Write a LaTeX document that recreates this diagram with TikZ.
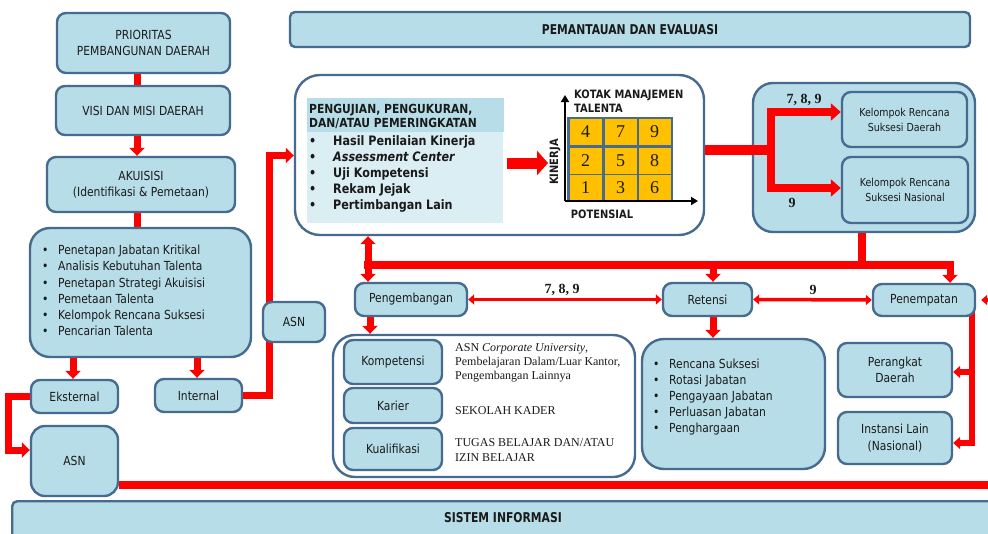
\documentclass[tikz,border=0pt]{standalone}
\usepackage{fontspec}
\setmainfont{DejaVu Sans}[FakeStretch=0.86]
\newfontfamily\bannerfont{DejaVu Sans}[FakeStretch=0.8]
\newfontfamily\cambfont{Liberation Serif}
\usetikzlibrary{arrows.meta}
\pgfdeclarelayer{back}
\pgfdeclarelayer{links}
\pgfsetlayers{back,links,main}

\definecolor{boxfill}{HTML}{B7DDE8}
\definecolor{boxline}{HTML}{476A8F}
\definecolor{palefill}{HTML}{DAEEF3}
\definecolor{cellfill}{HTML}{FFC000}
\definecolor{flowred}{HTML}{FF0000}
\definecolor{ink}{HTML}{1A1A1A}

\newcommand{\fsz}[2]{\fontsize{#1}{#2}\selectfont}
\newcommand{\bul}[1][16pt]{\makebox[#1][l]{\textbullet}}

\begin{document}
\begin{tikzpicture}[x=1pt,y=-1pt,
  panel/.style={draw=boxline, line width=2.4pt, fill=boxfill, rounded corners=9pt,
    align=center, inner sep=1pt, text=ink, font=\fsz{12.5}{16.5}},
  smallpanel/.style={panel, font=\fsz{11}{15}},
  txt/.style={inner sep=0pt, text=ink},
  itemtxt/.style={txt, align=left, font=\fsz{12.5}{16.2}},
  boldtxt/.style={txt, align=left, font=\bfseries\fsz{13}{16}},
  axlabel/.style={txt, align=left, font=\bfseries\fsz{11.5}{14}},
  serifnote/.style={txt, align=left, font=\cambfont\fsz{12}{14}},
  numlbl/.style={txt, font=\cambfont\bfseries\fsz{14}{16}},
  bannertxt/.style={txt, font=\bannerfont\bfseries\fsz{13.5}{16}},
  gridcell/.style={fill=cellfill, minimum width=32pt, minimum height=26pt, inner sep=0pt,
    text=ink, font=\cambfont\fsz{18}{20}},
  redlink/.style={draw=flowred, line width=7pt},
  redtip/.style={redlink, -{Triangle[length=8pt,width=15pt]}},
  redwide/.style={redlink, line width=8pt, -{Triangle[length=10pt,width=17pt]}},
  redside/.style={redlink, line width=6pt, -{Triangle[length=7pt,width=12pt]}},
  redthin/.style={redlink, line width=3.5pt,
    {Triangle[length=6pt,width=10pt]}-{Triangle[length=6pt,width=10pt]}},
  gridaxis/.style={draw=black, line width=2.5pt, -{Triangle[length=7pt,width=8pt]}},
]
\useasboundingbox (0,0) rectangle (988,533);
\clip (0,0) rectangle (988,533);

% large containers sit below the connectors
\begin{pgfonlayer}{back}
  \node[panel, fill=white, rounded corners=25pt, minimum width=409pt, minimum height=160pt] (asmt) at (499.5,155) {};
  \node[panel, rounded corners=20pt, minimum width=222pt, minimum height=149pt] (grp) at (864,157.5) {};
\end{pgfonlayer}

% ---------- left column: acquisition ----------
\node[panel, minimum width=173pt, minimum height=60pt] (prio) at (143.5,43) {PRIORITAS\\PEMBANGUNAN DAERAH};
\node[panel, minimum width=174pt, minimum height=49pt] (visi) at (143,110.5) {VISI DAN MISI DAERAH};
\node[panel, minimum width=188pt, minimum height=55pt] (akui) at (141,184.5) {AKUISISI\\(Identifikasi \& Pemetaan)};
\node[panel, rounded corners=20pt, minimum width=221pt, minimum height=129pt] (acq) at (140.5,292.5) {};
\node[itemtxt, anchor=west] (acqitems) at (42,290.5) {\bul Penetapan Jabatan Kritikal\\ \bul Analisis Kebutuhan Talenta\\ \bul Penetapan Strategi Akuisisi\\ \bul Pemetaan Talenta\\ \bul Kelompok Rencana Suksesi\\ \bul Pencarian Talenta};
\node[panel, minimum width=87pt, minimum height=33pt] (eks) at (74.5,396.5) {Eksternal};
\node[panel, minimum width=87pt, minimum height=33pt] (int) at (198.5,395.5) {Internal};
\node[panel, rounded corners=14pt, minimum width=87pt, minimum height=70pt] (asnA) at (74.5,461) {ASN};
\node[panel, minimum width=62pt, minimum height=40pt] (asnB) at (294,322) {ASN};

% ---------- banners ----------
\node[panel, rounded corners=5pt, minimum width=680pt, minimum height=35pt] (monev) at (630,29.5) {};
\node[bannertxt] (monevtxt) at (630,29.5) {PEMANTAUAN DAN EVALUASI};
\node[panel, rounded corners=5pt, minimum width=992pt, minimum height=50pt, anchor=north west] (sis) at (11,500) {};
\node[bannertxt] (sistxt) at (503,518) {SISTEM INFORMASI};

% ---------- assessment panel ----------
\node[fill=boxfill, minimum width=197pt, minimum height=34pt, inner sep=0pt, anchor=north west] (asmthead) at (307,98) {};
\node[fill=palefill, minimum width=196pt, minimum height=91pt, inner sep=0pt, anchor=north west] (asmtbody) at (307,132) {};
\node[txt, align=left, anchor=west, font=\bfseries\fsz{12.5}{14}] (asmthdtxt) at (309,116) {PENGUJIAN, PENGUKURAN,\\DAN/ATAU PEMERINGKATAN};
\node[boldtxt, anchor=west] (asmtitems) at (309,173.7) {\bul[24pt]Hasil Penilaian Kinerja\\ \bul[24pt]\textit{Assessment Center}\\ \bul[24pt]Uji Kompetensi\\ \bul[24pt]Rekam Jejak\\ \bul[24pt]Pertimbangan Lain};

% talent box grid
\node[fill=boxline, minimum width=106pt, minimum height=85pt, inner sep=0pt] (gridbg) at (620,159) {};
\node[gridcell] (g4) at (585.5,132) {4};
\node[gridcell] (g7) at (620.5,132) {7};
\node[gridcell] (g9) at (654.5,132) {9};
\node[gridcell] (g2) at (585.5,160.5) {2};
\node[gridcell] (g5) at (620.5,160.5) {5};
\node[gridcell] (g8) at (654.5,160.5) {8};
\node[gridcell] (g1) at (585.5,187.5) {1};
\node[gridcell] (g3) at (620.5,187.5) {3};
\node[gridcell] (g6) at (654.5,187.5) {6};
\coordinate (axo) at (565,201);
\coordinate (axy) at (565,95);
\coordinate (axx) at (698,201);
\draw[gridaxis] (axo) -- (axy);
\draw[gridaxis] (axo) -- (axx);
\node[axlabel, anchor=west] (kotak) at (574,101) {KOTAK MANAJEMEN\\TALENTA};
\node[axlabel, rotate=90] (kinerja) at (555,162) {KINERJA};
\node[axlabel] (potensial) at (602,214) {POTENSIAL};

% ---------- succession groups ----------
\node[smallpanel, minimum width=125pt, minimum height=55pt] (kd) at (904.5,119.5) {Kelompok Rencana\\Suksesi Daerah};
\node[smallpanel, minimum width=126pt, minimum height=66pt] (kn) at (905,190) {Kelompok Rencana\\Suksesi Nasional};
\node[numlbl] (lblA) at (804,100) {7, 8, 9};
\node[numlbl] (lblB) at (792,203) {9};

% ---------- management row ----------
\node[panel, minimum width=112pt, minimum height=33pt] (peng) at (411,299.5) {Pengembangan};
\node[panel, minimum width=89pt, minimum height=33pt] (ret) at (707.5,299.5) {Retensi};
\node[panel, minimum width=102pt, minimum height=32pt] (pen) at (924,300) {Penempatan};
\node[numlbl] (lblC) at (562,290) {7, 8, 9};
\node[numlbl] (lblD) at (813,290) {9};

% development
\node[panel, fill=white, rounded corners=22pt, minimum width=302pt, minimum height=142pt] (dev) at (484,406) {};
\node[panel, minimum width=98pt, minimum height=44pt] (komp) at (393,362) {Kompetensi};
\node[panel, minimum width=98pt, minimum height=35pt] (kar) at (393,405.5) {Karier};
\node[panel, minimum width=98pt, minimum height=42pt] (kual) at (393,449) {Kualifikasi};
\node[serifnote, anchor=west] (komptxt) at (455,363) {ASN \textit{Corporate University},\\Pembelajaran Dalam/Luar Kantor,\\Pengembangan Lainnya};
\node[serifnote, anchor=west] (kartxt) at (455,411) {SEKOLAH KADER};
\node[serifnote, anchor=west, font=\cambfont\fsz{12}{15}] (kualtxt) at (455,450.5) {TUGAS BELAJAR DAN/ATAU\\IZIN BELAJAR};

% retention
\node[panel, rounded corners=22pt, minimum width=183pt, minimum height=130pt] (retlist) at (733.5,404) {};
\node[itemtxt, anchor=west] (retitems) at (653,397) {\bul Rencana Suksesi\\ \bul Rotasi Jabatan\\ \bul Pengayaan Jabatan\\ \bul Perluasan Jabatan\\ \bul Penghargaan};

% placement
\node[panel, minimum width=114pt, minimum height=54pt] (pd) at (895,370) {Perangkat\\Daerah};
\node[panel, minimum width=114pt, minimum height=52pt] (il) at (895,438) {Instansi Lain\\(Nasional)};

% ---------- connectors ----------
\begin{pgfonlayer}{links}
  % left spine
  \coordinate (spine) at (137,0);
  \draw[redlink] (prio -| spine) -- (visi -| spine);
  \draw[redtip] (visi.south -| spine) -- (akui.north -| spine);
  \draw[redlink] (akui -| spine) -- (acq -| spine);
  % acquisition split
  \coordinate (ekx) at (73,0);
  \coordinate (inx) at (197,0);
  \draw[redtip] (acq.south -| ekx) -- (eks.north -| ekx);
  \draw[redtip] (acq.south -| inx) -- (int.north -| inx);
  % external recruits
  \coordinate (ekturn) at (8,450);
  \draw[redtip] (eks.west) -| (ekturn) -- (asnA.west |- ekturn);
  \coordinate (rimB) at (995,485);
  \draw[redlink, line width=8pt] (asnA.east |- rimB) -- (rimB);
  % internal talents into the assessment
  \coordinate (inturn) at (269.5,155.5);
  \draw[redtip] (int.east) -| (inturn) -- (asmt.west |- inturn);
  % assessment to talent box
  \coordinate (baE) at (548,163);
  \draw[redlink, line width=11pt, -{Triangle[length=11pt,width=24pt]}, shorten <=4pt] (asmtbody.east |- baE) -- (baE);
  % talent box to succession groups
  \coordinate (grpJ) at (771,150);
  \coordinate (toD) at (0,112);
  \coordinate (toN) at (0,188);
  \draw[redlink, line width=10pt] (asmt.east |- grpJ) -- (grpJ);
  \draw[redwide] (grpJ) |- (kd.west |- toD);
  \draw[redwide] (grpJ) |- (kn.west |- toN);
  % distribution bar
  \coordinate (dJ) at (862,265);
  \coordinate (dL) at (368,265);
  \coordinate (dR) at (950,265);
  \coordinate (rtx) at (713,0);
  \coordinate (pgx) at (370,0);
  \draw[redlink, line width=8pt] (grp.south -| dJ) -- (dJ);
  \draw[redlink, line width=8pt, line cap=rect] (dL) -- (dR);
  \draw[redtip] (dL) -- (asmt.south -| dL);
  \draw[redtip] (dL) -- (peng.north -| dL);
  \draw[redtip] (dJ -| rtx) -- (ret.north -| rtx);
  \draw[redtip] (dR) -- (pen.north -| dR);
  % lateral moves
  \draw[redthin] (peng.east) -- (ret.west);
  \draw[redthin] (ret.east) -- (pen.west);
  \coordinate (penR) at (1000,300);
  \draw[redlink, line width=3.5pt, -{Triangle[length=6pt,width=10pt]}, shorten >=5pt] (penR) -- (pen.east);
  % downward details
  \draw[redtip] (peng.south -| pgx) -- (dev.north -| pgx);
  \draw[redtip] (ret.south -| rtx) -- (retlist.north -| rtx);
  % placement split
  \coordinate (plx) at (971.5,0);
  \coordinate (toPD) at (0,372);
  \coordinate (toIL) at (0,443);
  \draw[redside] (pen -| plx) |- (pd.east |- toPD);
  \draw[redside] (pen -| plx) |- (il.east |- toIL);
\end{pgfonlayer}
\end{tikzpicture}
\end{document}
